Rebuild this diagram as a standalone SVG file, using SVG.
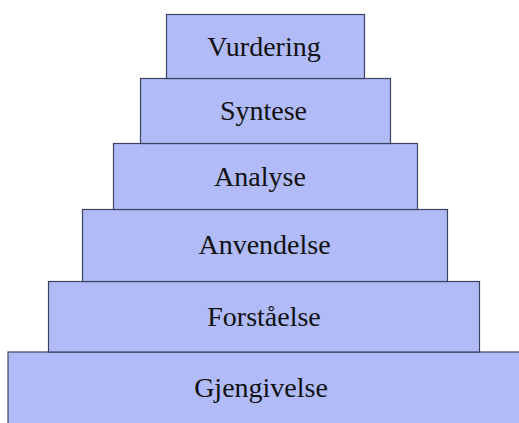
<svg xmlns="http://www.w3.org/2000/svg" width="519" height="423" viewBox="0 0 519 423">
<style>
.box{fill:#b0bbf8;stroke:#3c4262;stroke-width:1.2}
.lbl{font-family:"Liberation Serif","Times New Roman",serif;font-size:28px;fill:#111;text-anchor:middle}
</style>
<rect width="519" height="423" fill="#fff"/>
<g id="connectors"></g>
<g id="gjengivelse"><rect class="box" x="8" y="352" width="520" height="80"/><text class="lbl" x="261" y="397">Gjengivelse</text></g>
<g id="forstaaelse"><rect class="box" x="48.5" y="281.5" width="431" height="70.5"/><text class="lbl" x="264" y="326">Forståelse</text></g>
<g id="anvendelse"><rect class="box" x="82.5" y="209.5" width="365" height="72"/><text class="lbl" x="264.5" y="254">Anvendelse</text></g>
<g id="analyse"><rect class="box" x="113.5" y="143.5" width="304" height="66"/><text class="lbl" x="260" y="186">Analyse</text></g>
<g id="syntese"><rect class="box" x="140.5" y="78.5" width="250" height="65"/><text class="lbl" x="263.5" y="119.5">Syntese</text></g>
<g id="vurdering"><rect class="box" x="166.5" y="14.5" width="198" height="64"/><text class="lbl" x="264" y="56">Vurdering</text></g>
</svg>
